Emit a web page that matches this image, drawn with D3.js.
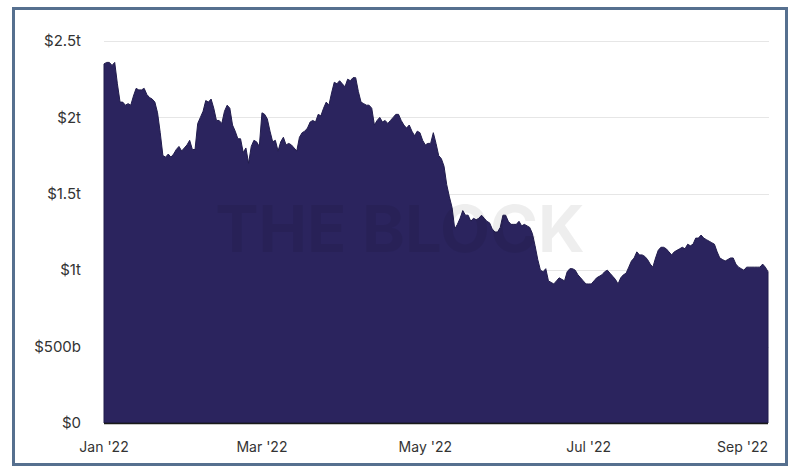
<!DOCTYPE html>
<html>
<head>
	<title>Crypto Market Cap</title>
	<style type="text/css">
body {
  margin: 0;
  background: #fff;
}

text {
  font-family: Inter, "Liberation Sans", sans-serif;
}

.axis text {
  font-size: 14px;
  fill: #333;
}

.axis.y-labels text {
  font-size: 15px;
}

.grid line {
  stroke: #e6e6e6;
  stroke-width: 1px;
}
	</style>
</head>
<body>
	<svg width="800" height="476"></svg>

	<script src="https://d3js.org/d3.v7.min.js"></script>
	<script>
		// total market cap, trillions of USD, one value per day from 1 Jan 2022
		var startDate = "2022-01-01"
		var values = [
			2.35, 2.36, 2.36, 2.34, 2.36, 2.22, 2.10, 2.10, 2.08, 2.09,
			2.08, 2.14, 2.19, 2.18, 2.18, 2.19, 2.15, 2.13, 2.12, 2.10,
			2.03, 1.90, 1.75, 1.74, 1.76, 1.74, 1.76, 1.79, 1.81, 1.78,
			1.80, 1.82, 1.85, 1.79, 1.79, 1.96, 2.00, 2.04, 2.11, 2.10,
			2.12, 2.06, 1.98, 1.98, 1.96, 2.04, 2.08, 2.06, 1.95, 1.91,
			1.86, 1.86, 1.77, 1.80, 1.70, 1.81, 1.85, 1.84, 1.81, 2.03,
			2.02, 1.99, 1.91, 1.84, 1.85, 1.78, 1.84, 1.87, 1.82, 1.83,
			1.82, 1.80, 1.78, 1.87, 1.90, 1.91, 1.93, 1.97, 1.98, 1.97,
			2.02, 2.01, 2.06, 2.10, 2.08, 2.16, 2.23, 2.22, 2.24, 2.22,
			2.20, 2.25, 2.24, 2.26, 2.26, 2.17, 2.10, 2.09, 2.08, 2.08,
			2.06, 1.95, 1.98, 2.00, 1.97, 1.98, 1.96, 1.98, 2.00, 2.02,
			2.02, 1.98, 1.95, 1.93, 1.95, 1.91, 1.88, 1.91, 1.90, 1.85,
			1.82, 1.83, 1.83, 1.90, 1.83, 1.75, 1.73, 1.68, 1.56, 1.48,
			1.41, 1.27, 1.30, 1.34, 1.39, 1.36, 1.36, 1.32, 1.34, 1.33,
			1.34, 1.36, 1.34, 1.32, 1.31, 1.27, 1.25, 1.25, 1.28, 1.36,
			1.36, 1.32, 1.30, 1.30, 1.30, 1.32, 1.29, 1.30, 1.29, 1.28,
			1.24, 1.16, 1.07, 1.00, 0.99, 1.01, 0.93, 0.92, 0.91, 0.93,
			0.95, 0.94, 0.93, 0.99, 1.01, 1.01, 1.00, 0.97, 0.95, 0.93,
			0.91, 0.91, 0.91, 0.93, 0.95, 0.96, 0.97, 0.99, 1.00, 0.98,
			0.96, 0.94, 0.91, 0.95, 0.97, 0.98, 1.02, 1.06, 1.08, 1.12,
			1.10, 1.10, 1.09, 1.07, 1.04, 1.02, 1.08, 1.13, 1.15, 1.15,
			1.14, 1.12, 1.10, 1.12, 1.13, 1.14, 1.15, 1.14, 1.17, 1.16,
			1.17, 1.21, 1.21, 1.23, 1.21, 1.20, 1.19, 1.18, 1.17, 1.12,
			1.08, 1.07, 1.06, 1.07, 1.08, 1.08, 1.04, 1.02, 1.01, 1.00,
			1.02, 1.02, 1.02, 1.02, 1.02, 1.02, 1.04, 1.02, 0.99
		]
		var yTicks = [0, 0.5, 1, 1.5, 2, 2.5]
		var yTickLabels = ["$0", "$500b", "$1t", "$1.5t", "$2t", "$2.5t"]

		var svg = d3.select("svg")

		var plotLeft = 104, plotRight = 768, plotTop = 41, plotBottom = 423

		var start = d3.timeParse("%Y-%m-%d")(startDate)
		var data = values.map(function (v, i) {
			return { date: d3.timeDay.offset(start, i), value: v }
		})

		var x = d3.scaleTime()
			.domain(d3.extent(data, function (d) { return d.date }))
			.range([plotLeft, plotRight])

		var y = d3.scaleLinear()
			.domain([0, 2.5])
			.range([plotBottom, plotTop])

		// outer frame
		svg.append("rect")
			.attr("x", 13.5)
			.attr("y", 8.5)
			.attr("width", 773)
			.attr("height", 456)
			.attr("fill", "#fff")
			.attr("stroke", "#56708f")
			.attr("stroke-width", 3)

		// grid
		svg.append("g")
				.attr("class", "grid")
			.selectAll("line")
			.data(yTicks.slice(1))
			.enter().append("line")
				.attr("x1", plotLeft)
				.attr("x2", plotRight + 1)
				.attr("y1", function (d) { return Math.round(y(d)) + 0.5 })
				.attr("y2", function (d) { return Math.round(y(d)) + 0.5 })

		// y labels
		svg.append("g")
				.attr("class", "axis y-labels")
			.selectAll("text")
			.data(yTicks)
			.enter().append("text")
				.attr("x", 81)
				.attr("y", function (d) { return y(d) })
				.attr("dy", "0.35em")
				.attr("text-anchor", "end")
				.text(function (d, i) { return yTickLabels[i] })

		// area
		var area = d3.area()
			.x(function (d) { return x(d.date) })
			.y0(y(0))
			.y1(function (d) { return y(d.value) })

		svg.append("path")
			.datum(data)
			.attr("d", area)
			.attr("fill", "#2b245e")
			.attr("stroke", "#211c4d")
			.attr("stroke-width", 1)

		// baseline
		svg.append("line")
			.attr("x1", plotLeft)
			.attr("x2", plotRight)
			.attr("y1", plotBottom + 0.5)
			.attr("y2", plotBottom + 0.5)
			.attr("stroke", "#1a1a1a")
			.attr("stroke-width", 1.5)

		// watermark
		svg.append("text")
			.attr("x", 400)
			.attr("y", 252)
			.attr("text-anchor", "middle")
			.attr("font-size", 65)
			.attr("font-weight", "bold")
			.attr("fill", "#000")
			.attr("fill-opacity", 0.065)
			.text("THE BLOCK")

		// x labels, the last one is kept inside the plot
		var fmt = d3.timeFormat("%b '%y")
		var xLabels = svg.append("g")
				.attr("class", "axis")
			.selectAll("text")
			.data(x.ticks(d3.timeMonth.every(2)))
			.enter().append("text")
				.attr("x", function (d) { return x(d) })
				.attr("y", 452)
				.attr("text-anchor", "middle")
				.text(function (d) { return fmt(d) })

		xLabels.each(function () {
			var box = this.getBBox()
			if (box.x + box.width > plotRight) {
				d3.select(this)
					.attr("text-anchor", "end")
					.attr("x", plotRight)
			}
		})
	</script>
</body>
</html>
